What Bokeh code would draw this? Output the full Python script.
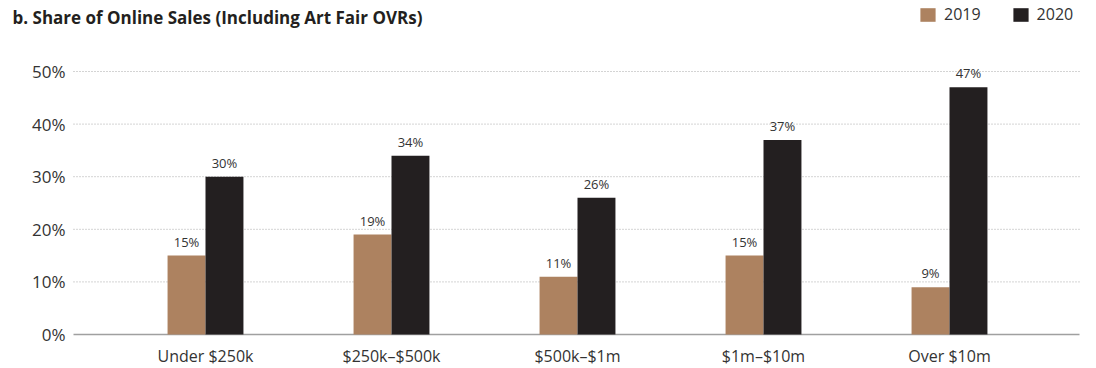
from bokeh.plotting import figure
from bokeh.models import ColumnDataSource, Legend, LegendItem, LabelSet, Label
from bokeh.core.properties import value
from bokeh.transform import dodge
from bokeh.embed import file_html
from bokeh.resources import INLINE

# ---- data ----
categories = ["Under $250k", "$250k\u2013$500k", "$500k\u2013$1m", "$1m\u2013$10m", "Over $10m"]
share_2019 = [15, 19, 11, 15, 9]
share_2020 = [30, 34, 26, 37, 47]
y_ticks = [0, 10, 20, 30, 40, 50]
series_names = ["2019", "2020"]

# ---- layout / style ----
W, H = 1096, 368
PLOT_LEFT, PLOT_RIGHT = 73, 1079      # plot area edges (px)
ZERO_PX, PX_PER_PCT = 334, 5.26       # pixel row of 0%, pixels per 1%
CAT0_PX, CAT_STEP = 205, 186          # pixel column of first category, spacing
BAR_W = 0.204                         # bar width in category units

FONT = "Open Sans"
C2019 = "#AD8260"
C2020 = "#231F20"
TXT = "#333333"


def x_of(px):
    return (px - CAT0_PX) / CAT_STEP


src = ColumnDataSource(dict(
    x=list(range(len(categories))),
    cat=categories,
    zero=[0] * len(categories),
    v19=share_2019,
    v20=share_2020,
    t19=[f"{v}%" for v in share_2019],
    t20=[f"{v}%" for v in share_2020],
))
ysrc = ColumnDataSource(dict(
    y=y_ticks,
    lab=[f"{t}%" for t in y_ticks],
    x0=[x_of(PLOT_LEFT)] * len(y_ticks),
    x1=[x_of(PLOT_RIGHT)] * len(y_ticks),
))
gsrc = ColumnDataSource({k: v[1:] for k, v in ysrc.data.items()})

p = figure(width=W, height=H, output_backend="svg", toolbar_location=None,
           x_range=(x_of(0), x_of(W)),
           y_range=(-(H - ZERO_PX) / PX_PER_PCT, ZERO_PX / PX_PER_PCT),
           min_border=0, min_border_left=0, min_border_right=0,
           min_border_top=0, min_border_bottom=0)
p.outline_line_color = None
p.background_fill_color = "white"
p.xaxis.visible = False
p.yaxis.visible = False
p.grid.visible = False

# dotted gridlines (10%..50%)
p.segment(x0="x0", x1="x1", y0="y", y1="y", source=gsrc,
          line_color="#A8A8A8", line_dash="1 2", line_width=1)
# baseline at 0%
p.segment(x0=x_of(PLOT_LEFT), x1=x_of(PLOT_RIGHT), y0=y_ticks[0], y1=y_ticks[0],
          line_color="#A0A0A0", line_width=1.5)

# bars
r19 = p.vbar(x=dodge("x", -BAR_W / 2), top="v19", width=BAR_W, source=src,
             color=C2019, line_color=None)
r20 = p.vbar(x=dodge("x", BAR_W / 2), top="v20", width=BAR_W, source=src,
             color=C2020, line_color=None)

# value labels
for col, txt, off in (("v19", "t19", -BAR_W / 2), ("v20", "t20", BAR_W / 2)):
    p.add_layout(LabelSet(x=dodge("x", off), y=col, text=txt, source=src,
                          text_align="center", text_baseline="bottom", y_offset=5,
                          text_font=value(FONT), text_font_size="13px", text_color=TXT))

# category labels
p.add_layout(LabelSet(x="x", y="zero", text="cat", source=src,
                      text_align="center", text_baseline="middle", y_offset=-21,
                      text_font=value(FONT), text_font_size="16px", text_color=TXT))

# y tick labels
p.add_layout(LabelSet(x=PLOT_LEFT - 8, x_units="screen", y="y", text="lab", source=ysrc,
                      text_align="right", text_baseline="middle",
                      text_font=value(FONT), text_font_size="17px", text_color=TXT))

# title
p.add_layout(Label(x=12, y=H - 17, x_units="screen", y_units="screen",
                   text="b. Share of Online Sales (Including Art Fair OVRs)",
                   text_font=FONT, text_font_size="17px", text_font_style="bold",
                   text_color="#231F20", text_baseline="middle"))

# legend
legend = Legend(items=[LegendItem(label=series_names[0], renderers=[r19]),
                       LegendItem(label=series_names[1], renderers=[r20])],
                orientation="horizontal", location=(918, H - 25),
                glyph_width=19, glyph_height=17, label_height=17, label_text_font=FONT,
                label_text_font_size="16px", label_text_color=TXT,
                label_standoff=7, spacing=30, padding=0, margin=0,
                border_line_color=None, background_fill_alpha=0)
p.add_layout(legend, "center")

open("out.html", "w").write(file_html(p, INLINE))
